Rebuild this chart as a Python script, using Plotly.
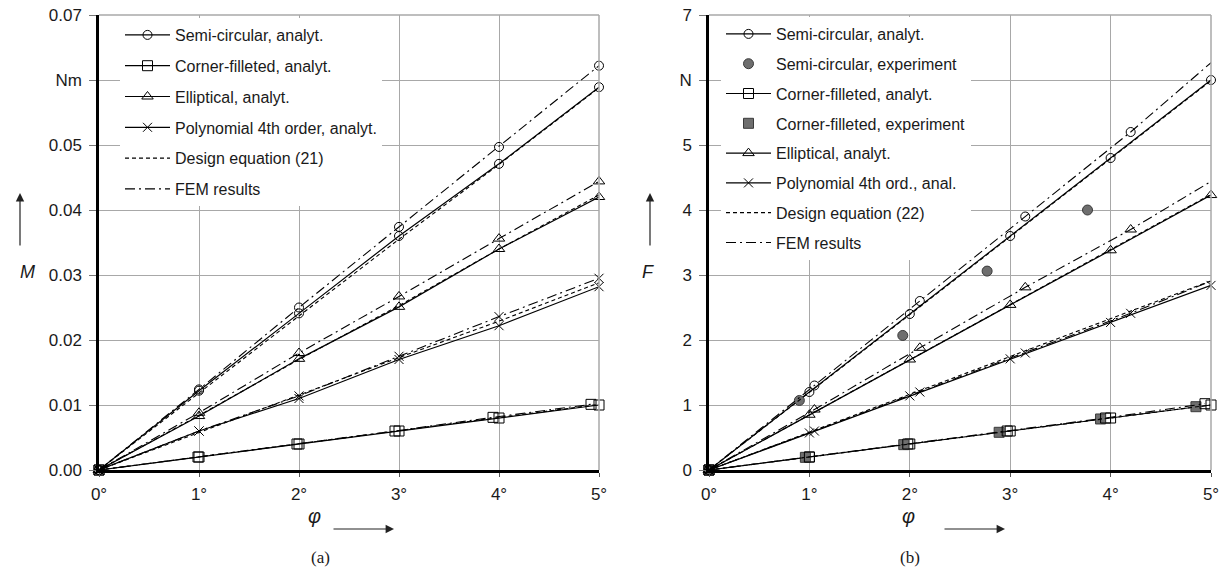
import plotly.graph_objects as go

# ---------------- data ----------------
phi = [0, 1, 2, 3, 4, 5]
phi_ticks = ["0°", "1°", "2°", "3°", "4°", "5°"]

# (a) moment M in Nm
M_semi_an = [0, 0.0122, 0.0241, 0.0360, 0.0471, 0.0589]
M_corner_an = [0, 0.0020, 0.0040, 0.0060, 0.0080, 0.0100]
M_ell_an = [0, 0.0083, 0.0171, 0.0251, 0.0340, 0.0420]
M_poly_an = [0, 0.0060, 0.0110, 0.0170, 0.0222, 0.0282]

M_semi_de = [0, 0.0119, 0.0237, 0.0355, 0.0470, 0.0588]
M_corner_de = [0, 0.0020, 0.0040, 0.0060, 0.0080, 0.0101]
M_ell_de = [0, 0.0084, 0.0170, 0.0253, 0.0340, 0.0423]
M_poly_de = [0, 0.0058, 0.0115, 0.0173, 0.0229, 0.0288]

M_semi_fem = [0, 0.0124, 0.0250, 0.0374, 0.0497, 0.0622]
M_ell_fem = [0, 0.0088, 0.0180, 0.0267, 0.0356, 0.0444]
M_poly_fem = [0, 0.0060, 0.0114, 0.0175, 0.0236, 0.0295]
phi_corner_fem_a = [0, 0.99, 1.98, 2.96, 3.94, 4.92]
M_corner_fem = [0, 0.0020, 0.0040, 0.0060, 0.0081, 0.0101]

M_tickvals = [0, 0.01, 0.02, 0.03, 0.04, 0.05, 0.06, 0.07]
M_ticktext = ["0.00", "0.01", "0.02", "0.03", "0.04", "0.05", "Nm", "0.07"]

# (b) force F in N
F_semi_an = [0, 1.20, 2.40, 3.60, 4.80, 6.00]
F_corner_an = [0, 0.20, 0.40, 0.60, 0.80, 1.00]
F_ell_an = [0, 0.85, 1.70, 2.54, 3.38, 4.23]
F_poly_an = [0, 0.57, 1.14, 1.71, 2.27, 2.84]

F_semi_de = [0, 1.19, 2.39, 3.59, 4.79, 5.99]
F_corner_de = [0, 0.20, 0.40, 0.60, 0.80, 1.00]
F_ell_de = [0, 0.85, 1.70, 2.55, 3.39, 4.24]
F_poly_de = [0, 0.58, 1.16, 1.75, 2.33, 2.91]

phi_fem_b = [0, 1.05, 2.10, 3.15, 4.20, 5.25]
F_semi_fem = [0, 1.30, 2.60, 3.90, 5.20, 6.60]
F_ell_fem = [0, 0.93, 1.88, 2.81, 3.70, 4.67]
F_poly_fem = [0, 0.60, 1.20, 1.80, 2.41, 3.06]
phi_corner_fem_b = [0, 1.00, 1.98, 2.97, 3.95, 4.94]
F_corner_fem = [0, 0.20, 0.40, 0.60, 0.80, 1.02]

phi_semi_exp = [0, 0.90, 1.93, 2.77, 3.77]
F_semi_exp = [0, 1.07, 2.07, 3.06, 4.00]
phi_corner_exp = [0, 0.96, 1.94, 2.89, 3.90, 4.85]
F_corner_exp = [0, 0.195, 0.39, 0.58, 0.785, 0.974]

F_tickvals = [0, 1, 2, 3, 4, 5, 6, 7]
F_ticktext = ["0", "1", "2", "3", "4", "5", "N", "7"]

# ---------------- layout geometry (pixels) ----------------
W, H = 1224, 578
L_X0, L_X1 = 99, 599
R_X0, R_X1 = 709, 1211
Y_TOP, Y_BOT = 15, 470

def fx(p):
    return p / W

def fy(p):
    return 1 - p / H

FONT = "Liberation Sans, Arial, sans-serif"
BLACK = "#000000"
GRID = "#a8a8a8"
EXP_FILL = "#6e6e6e"
EXP_LINE = "#3a3a3a"
DASH_DE = "4px,3px"
DASH_FEM = "10px,4px,2px,4px"

SYM = {
    "semi": ("circle-open", 9),
    "corner": ("square-open", 10),
    "ell": ("triangle-up-open", 10),
    "poly": ("x-thin-open", 9),
}

fig = go.Figure()


def line_trace(x, y, xa, ya, dash="solid", symbol=None, size=9, name="",
               show=False, legend="legend", group=None, clip=False, lw=1.2):
    mode = "lines+markers" if symbol else "lines"
    fig.add_trace(go.Scatter(
        x=x, y=y, xaxis=xa, yaxis=ya, mode=mode, name=name,
        line=dict(color=BLACK, width=lw, dash=dash),
        marker=dict(symbol=symbol or "circle", size=size, color=BLACK,
                    line=dict(width=1, color=BLACK)),
        showlegend=show, legend=legend, legendgroup=group,
        cliponaxis=clip, hoverinfo="skip"))


def marker_trace(x, y, xa, ya, symbol, size, color=BLACK, lcolor=BLACK,
                 name="", show=False, legend="legend", group=None):
    fig.add_trace(go.Scatter(
        x=x, y=y, xaxis=xa, yaxis=ya, mode="markers", name=name,
        marker=dict(symbol=symbol, size=size, color=color,
                    line=dict(width=1, color=lcolor)),
        showlegend=show, legend=legend, legendgroup=group,
        cliponaxis=False, hoverinfo="skip"))


def legend_line(name, dash, legend, group):
    fig.add_trace(go.Scatter(
        x=[None], y=[None], mode="lines", name=name,
        line=dict(color=BLACK, width=1.2, dash=dash),
        showlegend=True, legend=legend, legendgroup=group, hoverinfo="skip"))


# ---------- (a) legend entries / analytical curves ----------
line_trace(phi, M_semi_an, "x", "y", symbol=SYM["semi"][0], size=SYM["semi"][1],
           name="Semi-circular, analyt.", show=True, group="a1")
line_trace(phi, M_corner_an, "x", "y", symbol=SYM["corner"][0], size=SYM["corner"][1],
           name="Corner-filleted, analyt.", show=True, group="a2")
line_trace(phi, M_ell_an, "x", "y", symbol=SYM["ell"][0], size=SYM["ell"][1],
           name="Elliptical, analyt.", show=True, group="a3")
line_trace(phi, M_poly_an, "x", "y", symbol=SYM["poly"][0], size=SYM["poly"][1],
           name="Polynomial 4th order, analyt.", show=True, group="a4")
legend_line("Design equation (21)", DASH_DE, "legend", "a5")
legend_line("FEM results", DASH_FEM, "legend", "a6")

for yv in (M_semi_de, M_corner_de, M_ell_de, M_poly_de):
    line_trace(phi, yv, "x", "y", dash=DASH_DE, group="a5", lw=1.1)

for key, yv in (("semi", M_semi_fem), ("ell", M_ell_fem), ("poly", M_poly_fem)):
    line_trace(phi, yv, "x", "y", dash=DASH_FEM, symbol=SYM[key][0],
               size=SYM[key][1], group="a6", lw=1.1)
line_trace(phi_corner_fem_a, M_corner_fem, "x", "y", dash=DASH_FEM,
           symbol=SYM["corner"][0], size=SYM["corner"][1], group="a6", lw=1.1)

# ---------- (b) ----------
line_trace(phi, F_semi_an, "x2", "y2", symbol=SYM["semi"][0], size=SYM["semi"][1],
           name="Semi-circular, analyt.", show=True, legend="legend2", group="b1")
marker_trace(phi_semi_exp, F_semi_exp, "x2", "y2", "circle", 10, EXP_FILL, EXP_LINE,
             name="Semi-circular, experiment", show=True, legend="legend2", group="b2")
line_trace(phi, F_corner_an, "x2", "y2", symbol=SYM["corner"][0], size=SYM["corner"][1],
           name="Corner-filleted, analyt.", show=True, legend="legend2", group="b3")
marker_trace(phi_corner_exp, F_corner_exp, "x2", "y2", "square", 10, EXP_FILL, EXP_LINE,
             name="Corner-filleted, experiment", show=True, legend="legend2", group="b4")
line_trace(phi, F_ell_an, "x2", "y2", symbol=SYM["ell"][0], size=SYM["ell"][1],
           name="Elliptical, analyt.", show=True, legend="legend2", group="b5")
line_trace(phi, F_poly_an, "x2", "y2", symbol=SYM["poly"][0], size=SYM["poly"][1],
           name="Polynomial 4th ord., anal.", show=True, legend="legend2", group="b6")
legend_line("Design equation (22)", DASH_DE, "legend2", "b7")
legend_line("FEM results", DASH_FEM, "legend2", "b8")

for yv in (F_semi_de, F_corner_de, F_ell_de, F_poly_de):
    line_trace(phi, yv, "x2", "y2", dash=DASH_DE, legend="legend2", group="b7", lw=1.1)

for key, yv in (("semi", F_semi_fem), ("ell", F_ell_fem), ("poly", F_poly_fem)):
    line_trace(phi_fem_b, yv, "x2", "y2", dash=DASH_FEM, legend="legend2",
               group="b8", clip=True, lw=1.1)
    xs = [p for p in phi_fem_b if p <= 5]
    ys = [v for p, v in zip(phi_fem_b, yv) if p <= 5]
    marker_trace(xs, ys, "x2", "y2", SYM[key][0], SYM[key][1],
                 legend="legend2", group="b8")
line_trace(phi_corner_fem_b, F_corner_fem, "x2", "y2", dash=DASH_FEM,
           symbol=SYM["corner"][0], size=SYM["corner"][1], legend="legend2",
           group="b8", lw=1.1)

# ---------------- axes ----------------
tickfont = dict(family=FONT, size=17, color="#1a1a1a")
common_x = dict(range=[0, 5], tickvals=phi, ticktext=phi_ticks, showgrid=True,
                gridcolor=GRID, gridwidth=1.3, showline=True, linecolor=BLACK,
                linewidth=2.5, ticks="outside", ticklen=4, tickcolor="#555",
                tickfont=tickfont, zeroline=False, automargin=False,
                ticklabelstandoff=3)
common_y = dict(showgrid=True, gridcolor=GRID, gridwidth=1.3, showline=True,
                linecolor=BLACK, linewidth=2.5, ticks="outside", ticklen=7,
                tickcolor="#777", tickfont=tickfont, zeroline=False,
                automargin=False, ticklabelstandoff=4)

fig.update_layout(
    width=W, height=H, template="none",
    paper_bgcolor="white", plot_bgcolor="white",
    margin=dict(l=0, r=0, t=0, b=0),
    font=dict(family=FONT, size=16, color="#1a1a1a"),
    xaxis=dict(domain=[fx(L_X0), fx(L_X1)], anchor="y", **common_x),
    yaxis=dict(domain=[fy(Y_BOT), fy(Y_TOP)], anchor="x", range=[0, 0.07],
               tickvals=M_tickvals, ticktext=M_ticktext, **common_y),
    xaxis2=dict(domain=[fx(R_X0), fx(R_X1)], anchor="y2", **common_x),
    yaxis2=dict(domain=[fy(Y_BOT), fy(Y_TOP)], anchor="x2", range=[0, 7],
                tickvals=F_tickvals, ticktext=F_ticktext, **common_y),
    legend=dict(x=fx(L_X0 + 21), y=fy(Y_TOP + 3), xanchor="left", yanchor="top",
                bgcolor="white", borderwidth=0, itemwidth=45,
                tracegroupgap=7, font=dict(family=FONT, size=16, color="#1a1a1a"),
                traceorder="grouped", itemclick=False),
    legend2=dict(x=fx(R_X0 + 12), y=fy(Y_TOP + 2), xanchor="left", yanchor="top",
                 bgcolor="white", borderwidth=0, itemwidth=45,
                 tracegroupgap=6, font=dict(family=FONT, size=16, color="#1a1a1a"),
                 traceorder="grouped", itemclick=False),
    showlegend=True,
)

# gray frame on top and right (matching the grid)
for xr, yr in (("x", "y"), ("x2", "y2")):
    fig.add_shape(type="line", xref=f"{xr} domain", yref=f"{yr} domain",
                  x0=0, x1=1, y0=1, y1=1, line=dict(color=GRID, width=1.5))
    fig.add_shape(type="line", xref=f"{xr} domain", yref=f"{yr} domain",
                  x0=1, x1=1, y0=0, y1=1, line=dict(color=GRID, width=1.5))

# axis titles with arrows
def y_title(letter, xpx):
    fig.add_annotation(x=fx(xpx), y=fy(272), xref="paper", yref="paper",
                       text=f"<i>{letter}</i>", showarrow=False,
                       font=dict(family=FONT, size=18, color="#1a1a1a"))
    fig.add_annotation(x=fx(xpx + 2), y=fy(193), xref="paper", yref="paper",
                       ax=0, ay=54, axref="pixel", ayref="pixel", text="",
                       showarrow=True, arrowhead=2, arrowsize=1.4,
                       arrowwidth=1.2, arrowcolor="#222")

def x_title(xpx):
    fig.add_annotation(x=fx(xpx), y=fy(529), xref="paper", yref="paper",
                       text="<i>φ</i>", showarrow=False,
                       font=dict(family=FONT, size=20, color="#1a1a1a"))
    fig.add_annotation(x=fx(xpx + 88), y=fy(529), xref="paper", yref="paper",
                       ax=-62, ay=0, axref="pixel", ayref="pixel", text="",
                       showarrow=True, arrowhead=2, arrowsize=1.4,
                       arrowwidth=1.2, arrowcolor="#222")

y_title("M", 18)
y_title("F", 648)
x_title(306)
x_title(917)

for txt, xpx in (("(a)", 309), ("(b)", 922)):
    fig.add_annotation(x=fx(xpx), y=fy(569), xref="paper", yref="paper",
                       text=txt, showarrow=False,
                       font=dict(family="Liberation Serif, Times New Roman, serif",
                                 size=17, color="#1a1a1a"))

fig.write_html("out.html", config={"displayModeBar": False},
               post_script="document.body.style.margin='0';document.body.style.padding='0';")
